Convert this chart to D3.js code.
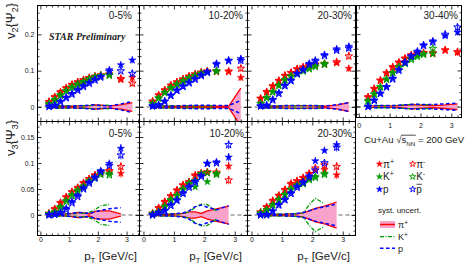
<!DOCTYPE html>
<html><head><meta charset="utf-8">
<script src="https://cdn.jsdelivr.net/npm/d3@7"></script>
<style>body{margin:0;background:#fff}text{font-family:"Liberation Sans",Arial,sans-serif;fill:#222}</style>
</head><body><svg id="c" width="467" height="271"></svg>
<script>
// ---------- data ----------
const pTtop = [0.3,0.5,0.7,0.9,1.1,1.3,1.5,1.7,1.9,2.1,2.4,2.8,3.2];
const pTbot = [0.3,0.5,0.7,0.9,1.1,1.3,1.5,1.7,1.9,2.1,2.4,2.8];
const pTK   = [0.3,0.5,0.7,0.9,1.1,1.3,1.5,1.7,1.9,2.1,2.4];
const errTop = [0.001,0.001,0.001,0.001,0.001,0.001,0.001,0.002,0.002,0.002,0.003,0.005,0.009];
const errBot = [0.001,0.001,0.001,0.001,0.001,0.002,0.002,0.002,0.003,0.003,0.004,0.008];
const errK   = [0.001,0.001,0.001,0.001,0.001,0.002,0.002,0.002,0.003,0.003,0.004];
const centralities = ["0-5%","10-20%","20-30%","30-40%"];
const yTicksV2 = [0,0.1,0.2];
const yTicksV3 = [0,0.05,0.1,0.15];
const xTicks = [0,1,2,3];

// v2{Psi2}
const v2_05_pip  = [0.015,0.028,0.042,0.053,0.062,0.069,0.075,0.081,0.085,0.088,0.091,0.075,0.081];
const v2_05_pim  = [0.014,0.027,0.040,0.051,0.061,0.068,0.074,0.080,0.084,0.087,0.089,0.078,0.065];
const v2_05_Kp   = [0.009,0.020,0.033,0.045,0.055,0.063,0.070,0.077,0.083,0.087,0.090];
const v2_05_Km   = [0.008,0.019,0.032,0.044,0.054,0.062,0.069,0.076,0.082,0.086,0.087];
const v2_05_p    = [0.002,0.005,0.016,0.027,0.037,0.048,0.058,0.067,0.076,0.084,0.102,0.116,0.129];
const v2_05_pbar = [0.001,0.004,0.014,0.025,0.035,0.046,0.056,0.065,0.074,0.082,0.098,0.099,0.092];

const v2_1020_pip  = [0.016,0.033,0.047,0.060,0.069,0.077,0.085,0.091,0.096,0.099,0.099,0.099,0.081];
const v2_1020_pim  = [0.015,0.032,0.046,0.059,0.068,0.076,0.084,0.090,0.095,0.098,0.097,0.097,0.106];
const v2_1020_Kp   = [0.010,0.025,0.040,0.053,0.063,0.072,0.080,0.087,0.093,0.097,0.100];
const v2_1020_Km   = [0.009,0.024,0.039,0.052,0.062,0.071,0.079,0.086,0.092,0.096,0.098];
const v2_1020_p    = [0.003,0.006,0.016,0.033,0.047,0.058,0.068,0.078,0.088,0.097,0.120,0.129,0.133];
const v2_1020_pbar = [0.002,0.005,0.015,0.031,0.045,0.056,0.066,0.076,0.086,0.095,0.117,0.127,0.128];

const v2_2030_pip  = [0.024,0.042,0.058,0.073,0.087,0.095,0.105,0.110,0.115,0.118,0.120,0.121,0.106];
const v2_2030_pim  = [0.023,0.041,0.057,0.072,0.086,0.094,0.104,0.109,0.114,0.117,0.118,0.124,0.140];
const v2_2030_Kp   = [0.010,0.026,0.042,0.060,0.075,0.085,0.092,0.100,0.107,0.113,0.120];
const v2_2030_Km   = [0.009,0.025,0.041,0.059,0.074,0.084,0.091,0.099,0.105,0.111,0.117];
const v2_2030_p    = [0.003,0.005,0.021,0.039,0.060,0.074,0.093,0.104,0.120,0.129,0.144,0.160,0.167];
const v2_2030_pbar = [0.002,0.004,0.019,0.037,0.058,0.072,0.091,0.102,0.117,0.126,0.141,0.156,0.162];

const v2_3040_pip  = [0.027,0.050,0.073,0.093,0.110,0.123,0.134,0.143,0.148,0.149,0.146,0.155,0.149];
const v2_3040_pim  = [0.026,0.049,0.072,0.092,0.108,0.121,0.132,0.141,0.147,0.148,0.148,0.156,0.151];
const v2_3040_Kp   = [0.016,0.035,0.055,0.076,0.094,0.110,0.121,0.133,0.140,0.145,0.145];
const v2_3040_Km   = [0.015,0.034,0.054,0.075,0.093,0.108,0.119,0.130,0.138,0.144,0.160];
const v2_3040_p    = [0.001,0.018,0.037,0.055,0.078,0.102,0.123,0.140,0.153,0.170,0.181,0.195,0.205];
const v2_3040_pbar = [0.000,0.017,0.036,0.054,0.076,0.100,0.121,0.138,0.150,0.168,0.178,0.199,0.219];

// v3{Psi3}
const v3_05_pip  = [0.003,0.012,0.024,0.035,0.045,0.053,0.062,0.070,0.077,0.083,0.083,0.080];
const v3_05_pim  = [0.003,0.011,0.023,0.034,0.044,0.052,0.061,0.069,0.076,0.081,0.085,0.093];
const v3_05_Kp   = [0.002,0.006,0.016,0.028,0.039,0.048,0.056,0.066,0.073,0.080,0.080];
const v3_05_Km   = [0.002,0.005,0.014,0.026,0.037,0.046,0.054,0.064,0.071,0.078,0.077];
const v3_05_p    = [0.000,0.001,0.005,0.013,0.026,0.038,0.052,0.063,0.073,0.085,0.099,0.128];
const v3_05_pbar = [0.000,0.001,0.004,0.010,0.023,0.035,0.050,0.061,0.071,0.083,0.095,0.115];

const v3_1020_pip  = [0.003,0.014,0.026,0.037,0.048,0.058,0.064,0.077,0.081,0.083,0.080,0.094];
const v3_1020_pim  = [0.003,0.013,0.025,0.036,0.047,0.057,0.063,0.075,0.080,0.082,0.082,0.067];
const v3_1020_Kp   = [0.002,0.007,0.017,0.030,0.038,0.050,0.061,0.054,0.078,0.064,0.080];
const v3_1020_Km   = [0.002,0.006,0.016,0.028,0.037,0.049,0.060,0.066,0.079,0.081,0.078];
const v3_1020_p    = [0.000,0.005,0.009,0.020,0.029,0.043,0.055,0.065,0.076,0.099,0.102,0.111];
const v3_1020_pbar = [0.000,0.004,0.008,0.018,0.028,0.041,0.053,0.063,0.074,0.099,0.100,0.135];

const v3_2030_pip  = [0.006,0.016,0.028,0.038,0.049,0.061,0.066,0.072,0.080,0.086,0.087,0.077];
const v3_2030_pim  = [0.005,0.015,0.027,0.037,0.048,0.059,0.065,0.071,0.079,0.090,0.096,0.093];
const v3_2030_Kp   = [0.004,0.010,0.020,0.030,0.040,0.050,0.058,0.062,0.069,0.074,0.080];
const v3_2030_Km   = [0.003,0.009,0.019,0.029,0.039,0.049,0.056,0.060,0.068,0.072,0.078];
const v3_2030_p    = [0.000,0.001,0.008,0.020,0.030,0.043,0.055,0.064,0.075,0.104,0.124,0.135];
const v3_2030_pbar = [0.000,0.000,0.007,0.019,0.029,0.041,0.053,0.062,0.073,0.086,0.100,0.130];

// systematic uncertainties (half widths)
const sys2_05_pi = [0.002,0.002,0.002,0.002,0.002,0.003,0.003,0.004,0.006,0.005,0.003,0.006,0.012];
const sys2_05_K  = [0.003,0.003,0.003,0.003,0.003,0.003,0.003,0.004,0.005,0.004,0.005];
const sys2_05_p  = [0.003,0.003,0.003,0.003,0.003,0.003,0.004,0.005,0.006,0.004,0.003,0.008,0.015];
const sys2_1020_pi = [0.002,0.002,0.002,0.002,0.002,0.002,0.002,0.002,0.002,0.002,0.002,0.002,0.052];
const sys2_1020_K  = [0.003,0.003,0.003,0.003,0.003,0.003,0.003,0.003,0.003,0.003,0.003];
const sys2_1020_p  = [0.003,0.003,0.003,0.003,0.003,0.004,0.004,0.005,0.005,0.005,0.004,0.004,0.018];
const sys2_2030_pi = [0.002,0.002,0.002,0.002,0.003,0.003,0.004,0.004,0.003,0.003,0.002,0.005,0.012];
const sys2_2030_K  = [0.003,0.003,0.003,0.003,0.003,0.003,0.003,0.003,0.003,0.003,0.003];
const sys2_2030_p  = [0.003,0.003,0.003,0.003,0.004,0.004,0.004,0.004,0.004,0.004,0.003,0.006,0.012];
const sys2_3040_pi = [0.002,0.002,0.002,0.002,0.002,0.003,0.004,0.006,0.005,0.004,0.003,0.005,0.008];
const sys2_3040_K  = [0.003,0.003,0.003,0.003,0.003,0.004,0.005,0.006,0.006,0.005,0.006];
const sys2_3040_p  = [0.003,0.003,0.003,0.003,0.003,0.004,0.005,0.006,0.007,0.006,0.006,0.008,0.010];

const sys3_05_pi = [0.001,0.001,0.001,0.002,0.003,0.005,0.004,0.002,0.007,0.008,0.008,0.002];
const sys3_05_K  = [0.002,0.002,0.002,0.002,0.002,0.003,0.003,0.005,0.010,0.018,0.020];
const sys3_05_p  = [0.001,0.001,0.001,0.002,0.003,0.005,0.004,0.003,0.006,0.009,0.012,0.014];
const sys3_1020_pi = [0.001,0.001,0.001,0.001,0.002,0.003,0.006,0.006,0.003,0.008,0.012,0.017];
const sys3_1020_K  = [0.002,0.002,0.002,0.002,0.002,0.003,0.006,0.015,0.021,0.020,0.008];
const sys3_1020_p  = [0.001,0.001,0.002,0.002,0.003,0.004,0.008,0.016,0.019,0.015,0.010,0.018];
const sys3_2030_pi = [0.001,0.001,0.001,0.001,0.001,0.002,0.002,0.004,0.008,0.013,0.017,0.025];
const sys3_2030_K  = [0.002,0.002,0.002,0.002,0.002,0.002,0.003,0.004,0.020,0.032,0.022];
const sys3_2030_p  = [0.001,0.001,0.001,0.001,0.002,0.002,0.003,0.005,0.008,0.012,0.016,0.021];

// ---------- drawing ----------
const svg = d3.select("#c");
const RED = "#ff0000", GREEN = "#009a00", BLUE = "#0000ff", PINK = "#f9a3cc";

const panels = [
  {id:1, x0:37.5, x1:139.5, y0:5.5, y1:121.5, xDom:[-0.1,3.45], yDom:[-0.040,0.2796], v:"2", yLab:true, yPad:3, xLab:false,
   cent:centralities[0], cx:132, cy:19, pT:pTtop, err:errTop,
   s:[v2_05_pip,v2_05_pim,v2_05_Kp,v2_05_Km,v2_05_p,v2_05_pbar], sys:[sys2_05_pi,sys2_05_K,sys2_05_p]},
  {id:2, x0:139.5, x1:247.5, y0:5.5, y1:121.5, xDom:[-0.13,3.42], yDom:[-0.040,0.2796], v:"2", yLab:false, xLab:false,
   cent:centralities[1], cx:243, cy:19, pT:pTtop, err:errTop,
   s:[v2_1020_pip,v2_1020_pim,v2_1020_Kp,v2_1020_Km,v2_1020_p,v2_1020_pbar], sys:[sys2_1020_pi,sys2_1020_K,sys2_1020_p]},
  {id:3, x0:247.5, x1:355.5, y0:5.5, y1:121.5, xDom:[-0.13,3.42], yDom:[-0.040,0.2796], v:"2", yLab:false, xLab:false,
   cent:centralities[2], cx:352, cy:19, pT:pTtop, err:errTop,
   s:[v2_2030_pip,v2_2030_pim,v2_2030_Kp,v2_2030_Km,v2_2030_p,v2_2030_pbar], sys:[sys2_2030_pi,sys2_2030_K,sys2_2030_p]},
  {id:4, x0:356.5, x1:461.5, y0:5.5, y1:117.5, xDom:[-0.075,3.33], yDom:[-0.0298,0.2788], v:"2", yLab:false, xLab:true, xPad:6,
   cent:centralities[3], cx:458, cy:19, pT:pTtop, err:errTop,
   s:[v2_3040_pip,v2_3040_pim,v2_3040_Kp,v2_3040_Km,v2_3040_p,v2_3040_pbar], sys:[sys2_3040_pi,sys2_3040_K,sys2_3040_p]},
  {id:5, x0:37.5, x1:139.5, y0:121.5, y1:235.5, xDom:[-0.1,3.45], yDom:[-0.0394,0.1798], v:"3", yLab:true, yPad:3, xLab:true, xPad:1.5,
   cent:centralities[0], cx:132, cy:137, pT:pTbot, err:errBot,
   s:[v3_05_pip,v3_05_pim,v3_05_Kp,v3_05_Km,v3_05_p,v3_05_pbar], sys:[sys3_05_pi,sys3_05_K,sys3_05_p]},
  {id:6, x0:139.5, x1:247.5, y0:121.5, y1:235.5, xDom:[-0.13,3.42], yDom:[-0.0394,0.1798], v:"3", yLab:false, xLab:true, xPad:1.5,
   cent:centralities[1], cx:244, cy:137, pT:pTbot, err:errBot,
   s:[v3_1020_pip,v3_1020_pim,v3_1020_Kp,v3_1020_Km,v3_1020_p,v3_1020_pbar], sys:[sys3_1020_pi,sys3_1020_K,sys3_1020_p]},
  {id:7, x0:247.5, x1:355.5, y0:121.5, y1:235.5, xDom:[-0.13,3.42], yDom:[-0.0394,0.1798], v:"3", yLab:false, xLab:true, xPad:1.5,
   cent:centralities[2], cx:352, cy:137, pT:pTbot, err:errBot,
   s:[v3_2030_pip,v3_2030_pim,v3_2030_Kp,v3_2030_Km,v3_2030_p,v3_2030_pbar], sys:[sys3_2030_pi,sys3_2030_K,sys3_2030_p]}
];

const star = d3.symbol().type(d3.symbolStar);
const fmt = d => d === 0 ? "0" : d3.format("~g")(d);

function styleAxis(sel, fs) {
  sel.attr("color", "#000");
  sel.select(".domain").remove();
  sel.selectAll("text").style("font-size", fs + "px").style("fill", "#222")
     .style("font-family", '"Liberation Sans",Arial,sans-serif');
  sel.selectAll("line").attr("stroke-width", 0.8);
}

panels.forEach(P => {
  const x = d3.scaleLinear().domain(P.xDom).range([P.x0, P.x1]);
  const y = d3.scaleLinear().domain(P.yDom).range([P.y1, P.y0]);
  const cid = "clip" + P.id;
  svg.append("clipPath").attr("id", cid).append("rect")
    .attr("x", P.x0).attr("y", P.y0).attr("width", P.x1 - P.x0).attr("height", P.y1 - P.y0);
  const g = svg.append("g").attr("clip-path", `url(#${cid})`);

  // zero line
  g.append("line").attr("x1", P.x0).attr("x2", P.x1).attr("y1", y(0)).attr("y2", y(0))
    .attr("stroke", "#666").attr("stroke-width", 1).attr("stroke-dasharray", "4,3");

  // systematic bands
  const piD = P.sys[0].map((s, i) => [P.pT[i], s]);
  const kD = P.sys[1].map((s, i) => [pTK[i], s]);
  const pD = P.sys[2].map((s, i) => [P.pT[i], s]);
  const area = d3.area().x(d => x(d[0])).y0(d => y(-d[1])).y1(d => y(d[1]));
  const up = d3.line().x(d => x(d[0])).y(d => y(d[1]));
  const dn = d3.line().x(d => x(d[0])).y(d => y(-d[1]));
  g.append("path").datum(piD).attr("d", area).attr("fill", PINK);
  [[piD, RED, null, 1.3], [kD, GREEN, "4,1.5,1,1.5", 1.3], [pD, BLUE, "3.5,2.5", 1.5]].forEach(([D, c, dash, w]) => {
    [up, dn].forEach(L => {
      g.append("path").datum(D).attr("d", L).attr("fill", "none").attr("stroke", c)
        .attr("stroke-width", w).attr("stroke-dasharray", dash);
    });
  });

  // markers
  const specs = [
    [P.s[0], P.pT, RED, true, P.err], [P.s[1], P.pT, RED, false, P.err],
    [P.s[2], pTK, GREEN, true, errK], [P.s[3], pTK, GREEN, false, errK],
    [P.s[4], P.pT, BLUE, true, P.err], [P.s[5], P.pT, BLUE, false, P.err]
  ];
  specs.forEach(([vals, xs, c, filled, err]) => {
    const D = vals.map((v, i) => ({x: xs[i], v: v, e: err[i]}));
    g.selectAll(null).data(D).enter().append("line")
      .attr("x1", d => x(d.x)).attr("x2", d => x(d.x))
      .attr("y1", d => y(d.v - d.e)).attr("y2", d => y(d.v + d.e))
      .attr("stroke", c).attr("stroke-width", 0.8);
    g.selectAll(null).data(D).enter().append("path")
      .attr("d", star.size(filled ? 17 : 18)())
      .attr("transform", d => `translate(${x(d.x)},${y(d.v)})`)
      .attr("fill", filled ? c : "none").attr("stroke", c)
      .attr("stroke-width", filled ? 0.5 : 1);
  });

  // axes
  const yMaj = P.v === "2" ? yTicksV2 : yTicksV3;
  const yMin = P.v === "2" ? d3.range(-0.02, 0.281, 0.02).map(v => +v.toFixed(3)) : d3.range(-0.03, 0.181, 0.01).map(v => +v.toFixed(3));
  const yMinF = yMin.filter(v => yMaj.indexOf(v) < 0 && v >= P.yDom[0] && v <= P.yDom[1]);
  const xMin = d3.range(0.2, 3.41, 0.2).map(v => +v.toFixed(2)).filter(v => xTicks.indexOf(v) < 0 && v <= P.xDom[1]);
  const ax = svg.append("g");
  ax.append("g").attr("transform", `translate(${P.x0},0)`)
    .call(d3.axisLeft(y).tickValues(yMaj).tickSize(-4).tickPadding(P.yPad || 3).tickFormat(P.yLab ? fmt : ""))
    .call(s => styleAxis(s, 7));
  ax.append("g").attr("transform", `translate(${P.x0},0)`)
    .call(d3.axisLeft(y).tickValues(yMinF).tickSize(-2).tickFormat(""))
    .call(s => styleAxis(s, 7));
  ax.append("g").attr("transform", `translate(${P.x1},0)`)
    .call(d3.axisRight(y).tickValues(yMaj).tickSize(-4).tickFormat(""))
    .call(s => styleAxis(s, 7));
  ax.append("g").attr("transform", `translate(${P.x1},0)`)
    .call(d3.axisRight(y).tickValues(yMinF).tickSize(-2).tickFormat(""))
    .call(s => styleAxis(s, 7));
  ax.append("g").attr("transform", `translate(0,${P.y1})`)
    .call(d3.axisBottom(x).tickValues(xTicks).tickSize(-4).tickPadding(P.xPad || 2).tickFormat(P.xLab ? d3.format("d") : ""))
    .call(s => styleAxis(s, 7));
  ax.append("g").attr("transform", `translate(0,${P.y1})`)
    .call(d3.axisBottom(x).tickValues(xMin).tickSize(-2).tickFormat(""))
    .call(s => styleAxis(s, 7));
  ax.append("g").attr("transform", `translate(0,${P.y0})`)
    .call(d3.axisTop(x).tickValues(xTicks).tickSize(-4).tickFormat(""))
    .call(s => styleAxis(s, 7));
  ax.append("g").attr("transform", `translate(0,${P.y0})`)
    .call(d3.axisTop(x).tickValues(xMin).tickSize(-2).tickFormat(""))
    .call(s => styleAxis(s, 7));

  // frame
  svg.append("rect").attr("x", P.x0).attr("y", P.y0).attr("width", P.x1 - P.x0).attr("height", P.y1 - P.y0)
    .attr("fill", "none").attr("stroke", "#000").attr("stroke-width", 1);

  // centrality label
  svg.append("text").attr("x", P.cx).attr("y", P.cy).attr("text-anchor", "end")
    .style("font-size", "10px").text(P.cent);
});

// y titles
function yTitle(xc, yc, n) {
  const t = svg.append("text").attr("transform", `translate(${xc},${yc}) rotate(-90)`)
    .attr("text-anchor", "middle").style("font-size", "13px");
  t.append("tspan").text("v");
  t.append("tspan").attr("dy", 3).style("font-size", "9px").text(n);
  t.append("tspan").attr("dy", -3).text("{Ψ");
  t.append("tspan").attr("dy", 3).style("font-size", "9px").text(n);
  t.append("tspan").attr("dy", -3).text("}");
}
yTitle(15, 21, "2");
yTitle(15, 138, "3");

// x titles
[137, 242, 350].forEach(xe => {
  const t = svg.append("text").attr("x", xe).attr("y", 260).attr("text-anchor", "end").style("font-size", "11.5px");
  t.append("tspan").text("p");
  t.append("tspan").attr("dy", 3).style("font-size", "8px").text("T");
  t.append("tspan").attr("dy", -3).text(" [GeV/c]");
});

// STAR Preliminary
svg.append("text").attr("x", 49).attr("y", 39.5)
  .style("font-family", '"Liberation Serif",serif').style("font-weight", "bold").style("font-style", "italic")
  .style("font-size", "10px").text("STAR Preliminary");

// Cu+Au sqrt(sNN) = 200 GeV
const cu = svg.append("text").attr("x", 364).attr("y", 143).style("font-size", "9.6px");
cu.append("tspan").text("Cu+Au ");
cu.append("tspan").text("√");
cu.append("tspan").text("s");
cu.append("tspan").attr("dy", 2.5).style("font-size", "6.2px").text("NN");
cu.append("tspan").attr("dy", -2.5).text(" = 200 GeV");
{
  const node = cu.node();
  const a = node.getExtentOfChar(6), b = node.getExtentOfChar(9);
  svg.append("line").attr("x1", a.x + a.width - 0.5).attr("x2", b.x + b.width + 0.5)
    .attr("y1", a.y + 1.2).attr("y2", a.y + 1.2).attr("stroke", "#222").attr("stroke-width", 0.8);
}

// species legend
const legRows = [164, 176.7, 189.3];
const legCols = [379.5, 412.7];
const legNames = [["π", "+"], ["π", "-"], ["K", "+"], ["K", "-"], ["p", ""], ["p", ""]];
const legColors = [RED, RED, GREEN, GREEN, BLUE, BLUE];
legNames.forEach((nm, i) => {
  const cx = legCols[i % 2], cy = legRows[Math.floor(i / 2)];
  const filled = i % 2 === 0;
  svg.append("path").attr("d", star.size(12)()).attr("transform", `translate(${cx},${cy})`)
    .attr("fill", filled ? legColors[i] : "none").attr("stroke", legColors[i]).attr("stroke-width", filled ? 0.5 : 0.9);
  const t = svg.append("text").attr("x", cx + 3.5).attr("y", cy + 3.5).style("font-size", "10px");
  t.append("tspan").text(nm[0]);
  if (nm[1]) t.append("tspan").attr("dy", -4).style("font-size", "7px").text(nm[1]);
  if (i === 5) {
    svg.append("line").attr("x1", cx + 3.8).attr("x2", cx + 9.3).attr("y1", cy - 5).attr("y2", cy - 5)
      .attr("stroke", "#222").attr("stroke-width", 0.8);
  }
});

// systematics legend
svg.append("text").attr("x", 378).attr("y", 212.5).style("font-size", "8px").text("syst. uncert.");
svg.append("rect").attr("x", 380).attr("y", 221).attr("width", 15).attr("height", 7).attr("fill", PINK);
svg.append("line").attr("x1", 380).attr("x2", 395).attr("y1", 224.5).attr("y2", 224.5).attr("stroke", RED).attr("stroke-width", 1.5);
svg.append("line").attr("x1", 380).attr("x2", 395).attr("y1", 236.7).attr("y2", 236.7).attr("stroke", GREEN).attr("stroke-width", 1.3).attr("stroke-dasharray", "4,1.5,1,1.5");
svg.append("line").attr("x1", 380).attr("x2", 395).attr("y1", 248.3).attr("y2", 248.3).attr("stroke", BLUE).attr("stroke-width", 1.5).attr("stroke-dasharray", "3.5,2.5");
[["π", "+", 228], ["K", "+", 240], ["p", "", 251.8]].forEach(([a, b, yy]) => {
  const t = svg.append("text").attr("x", 398).attr("y", yy).style("font-size", "9px");
  t.append("tspan").text(a);
  if (b) t.append("tspan").attr("dy", -3.5).style("font-size", "6.5px").text(b);
});
</script></body></html>
